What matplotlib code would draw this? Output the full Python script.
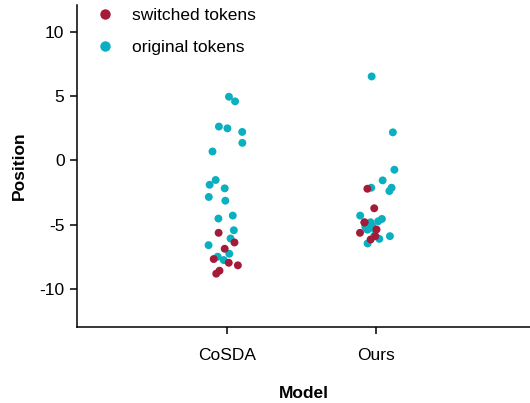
import numpy as np
import pandas as pd
import matplotlib
matplotlib.use("Agg")
import matplotlib.pyplot as plt
from matplotlib.lines import Line2D
import seaborn as sns

models = ["CoSDA", "Ours"]
groups = ["switched tokens", "original tokens"]
colors = {"switched tokens": "#A31B38", "original tokens": "#0AAFC0"}

cosda_original = [4.96, 4.6, 2.64, 2.5, 2.22, 1.37, 0.70, -1.52, -1.89, -2.17,
                  -2.84, -3.13, -4.29, -4.52, -5.43, -6.07, -6.59, -7.26, -7.49, -7.75]
cosda_switched = [-5.63, -6.38, -6.87, -7.67, -7.96, -8.16, -8.58, -8.81]
ours_original = [6.54, 2.19, -0.72, -1.55, -2.12, -2.38, -2.12, -4.29, -4.55, -4.73,
                 -4.81, -5.17, -5.12, -5.37, -5.37, -5.37, -5.86, -5.89, -6.10, -6.46]
ours_switched = [-2.20, -3.72, -4.81, -4.83, -5.37, -5.63, -5.89, -6.15]

rows = []
for m, vals in (("CoSDA", cosda_original), ("Ours", ours_original)):
    rows += [(m, "original tokens", v) for v in vals]
for m, vals in (("CoSDA", cosda_switched), ("Ours", ours_switched)):
    rows += [(m, "switched tokens", v) for v in vals]
df = pd.DataFrame(rows, columns=["Model", "Type", "Position"])

plt.rcParams["font.family"] = ["Liberation Sans", "DejaVu Sans"]
FS = 12.5

np.random.seed(3)
fig = plt.figure(figsize=(5.30, 4.03), dpi=100)
ax = fig.add_axes([77/530, 1 - 327/403, 1 - 77/530, (327 - 5)/403])

sns.stripplot(data=df, x="Model", y="Position", hue="Type", order=models,
              hue_order=groups, palette=colors, jitter=0.13, size=5.7,
              linewidth=0, edgecolor="none", ax=ax, legend=False)

ax.set_xlim(-1.007, 2.034)
ax.set_ylim(-12.96, 12.1)
ax.set_yticks([10, 5, 0, -5, -10])
ax.set_yticklabels(["10", "5", "0", "-5", "-10"])
for s in ("top", "right"):
    ax.spines[s].set_visible(False)
for s in ("left", "bottom"):
    ax.spines[s].set_linewidth(1.1)
ax.tick_params(axis="both", length=5, width=1.1, labelsize=FS, colors="black", pad=4)
ax.tick_params(axis="x", pad=10)
ax.set_xlabel("Model", fontsize=FS, fontweight="bold", labelpad=17)
ax.set_ylabel("Position", fontsize=FS, fontweight="bold", labelpad=9)

handles = [Line2D([], [], marker="o", linestyle="none", markersize=7.5,
                  markerfacecolor=colors[g], markeredgewidth=0) for g in groups]
ax.legend(handles, groups, loc="upper left", bbox_to_anchor=(96/530, 1 - 8/403),
          bbox_transform=fig.transFigure, frameon=False, fontsize=FS,
          labelspacing=0.97, handlelength=1.0, handletextpad=1.05, borderaxespad=0,
          borderpad=0)

fig.savefig("out.png", dpi=100)
